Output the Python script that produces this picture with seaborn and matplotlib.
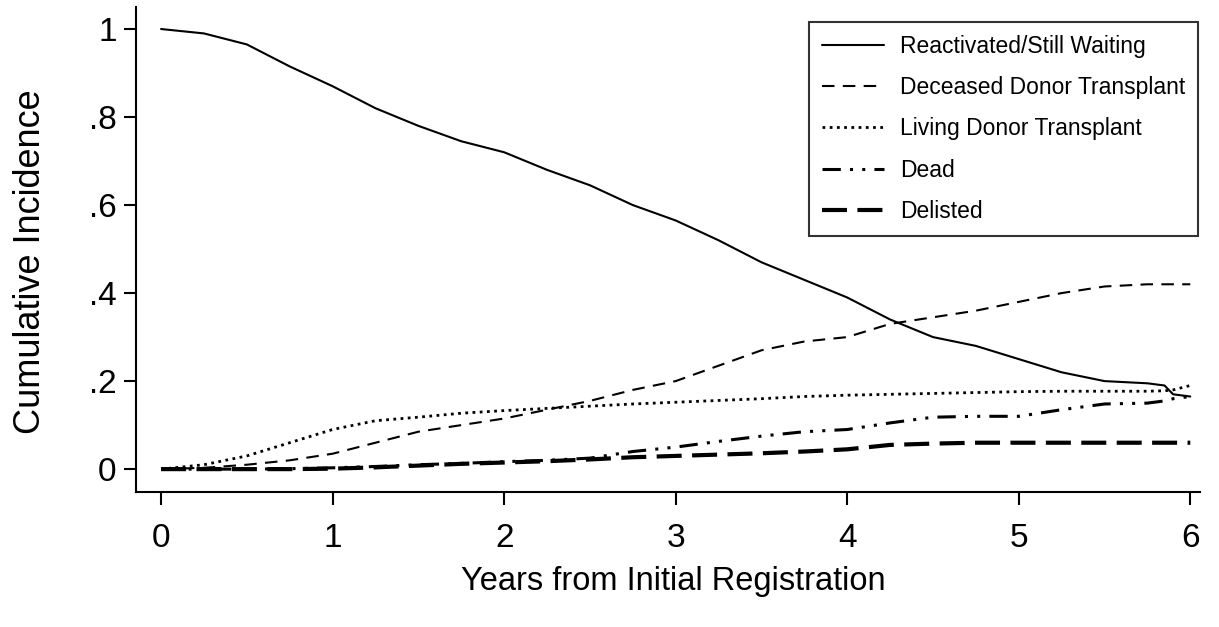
import matplotlib
matplotlib.use("Agg")
import matplotlib.pyplot as plt
import seaborn as sns
import numpy as np

# ---- data ----
years = [0.0, 0.25, 0.5, 0.75, 1.0, 1.25, 1.5, 1.75, 2.0, 2.25, 2.5, 2.75, 3.0,
         3.25, 3.5, 3.75, 4.0, 4.25, 4.5, 4.75, 5.0, 5.25, 5.5, 5.75, 5.85, 5.9, 6.0]

reactivated = [1.0, 0.99, 0.965, 0.915, 0.87, 0.82, 0.78, 0.745, 0.72, 0.68, 0.645, 0.60, 0.565,
               0.52, 0.47, 0.43, 0.39, 0.34, 0.30, 0.28, 0.25, 0.22, 0.20, 0.195, 0.19, 0.17, 0.165]
deceased = [0.0, 0.003, 0.01, 0.02, 0.035, 0.06, 0.085, 0.10, 0.115, 0.135, 0.155, 0.18, 0.20,
            0.235, 0.27, 0.29, 0.30, 0.33, 0.345, 0.36, 0.38, 0.40, 0.415, 0.42, 0.42, 0.42, 0.42]
living = [0.0, 0.01, 0.03, 0.06, 0.09, 0.11, 0.118, 0.127, 0.133, 0.138, 0.143, 0.148, 0.152,
          0.156, 0.16, 0.165, 0.168, 0.17, 0.172, 0.174, 0.176, 0.177, 0.177, 0.177, 0.178, 0.18, 0.19]
dead = [0.0, 0.0, 0.0, 0.001, 0.003, 0.006, 0.01, 0.013, 0.017, 0.02, 0.025, 0.04, 0.05,
        0.063, 0.075, 0.085, 0.09, 0.105, 0.118, 0.12, 0.12, 0.135, 0.148, 0.15, 0.155, 0.16, 0.165]
delisted = [0.0, 0.0, 0.0, 0.0, 0.001, 0.004, 0.008, 0.012, 0.015, 0.018, 0.022, 0.027, 0.03,
            0.033, 0.036, 0.04, 0.045, 0.055, 0.058, 0.06, 0.06, 0.06, 0.06, 0.06, 0.06, 0.06, 0.06]

labels = ["Reactivated/Still Waiting", "Deceased Donor Transplant",
          "Living Donor Transplant", "Dead", "Delisted"]
xticks = [0, 1, 2, 3, 4, 5, 6]
yticks = [0, 0.2, 0.4, 0.6, 0.8, 1.0]
ytick_labels = ["0", ".2", ".4", ".6", ".8", "1"]

# ---- style ----
sns.set_style("ticks")
plt.rcParams["font.family"] = ["Liberation Sans", "DejaVu Sans"]
plt.rcParams["text.color"] = "black"
plt.rcParams["axes.labelcolor"] = "black"
plt.rcParams["xtick.color"] = "black"
plt.rcParams["ytick.color"] = "black"

fig = plt.figure(figsize=(12.19, 6.27), dpi=100)
ax = fig.add_axes([0.1116, 0.2153, 0.873, 0.7735])

series = [reactivated, deceased, living, dead, delisted]
styles = [
    dict(linestyle="-", lw=1.5),
    dict(linestyle=(0, (6, 4)), lw=1.5),
    dict(linestyle=(0, (1, 1.6)), lw=2.0),
    dict(linestyle=(0, (6, 3, 1, 3, 1, 3)), lw=2.2),
    dict(linestyle=(0, (6, 2.5)), lw=3.0),
]
for vals, lab, st in zip(series, labels, styles):
    sns.lineplot(x=years, y=vals, ax=ax, color="black", label=lab,
                 errorbar=None, **st)

ax.set_xlim(-0.146, 6.058)
ax.set_ylim(-0.052, 1.05)
ax.set_xticks(xticks)
ax.set_xticklabels([str(v) for v in xticks])
ax.set_yticks(yticks)
ax.set_yticklabels(ytick_labels)
ax.tick_params(axis="both", labelsize=24, width=1.5, length=9, color="black",
               labelcolor="black")
ax.tick_params(axis="x", pad=13)
ax.tick_params(axis="y", pad=5)
for s in ["top", "right"]:
    ax.spines[s].set_visible(False)
for s in ["left", "bottom"]:
    ax.spines[s].set_linewidth(1.5)
    ax.spines[s].set_color("black")

ax.set_xlabel("Years from Initial Registration", fontsize=23.5, color="black")
ax.set_ylabel("Cumulative Incidence", fontsize=26, color="black")
ax.xaxis.set_label_coords(0.505, -0.152)
ax.yaxis.set_label_coords(-0.083, 0.474)

leg = ax.legend(loc="upper right", bbox_to_anchor=(0.9975, 0.969), fontsize=16.5,
                frameon=True, fancybox=False, edgecolor="black",
                handlelength=2.7, handletextpad=0.7, labelspacing=0.8,
                borderpad=0.55, borderaxespad=0.0)
leg.get_frame().set_linewidth(1.5)
for t in leg.get_texts():
    t.set_color("black")

fig.savefig("out.png", dpi=100, facecolor="white")
